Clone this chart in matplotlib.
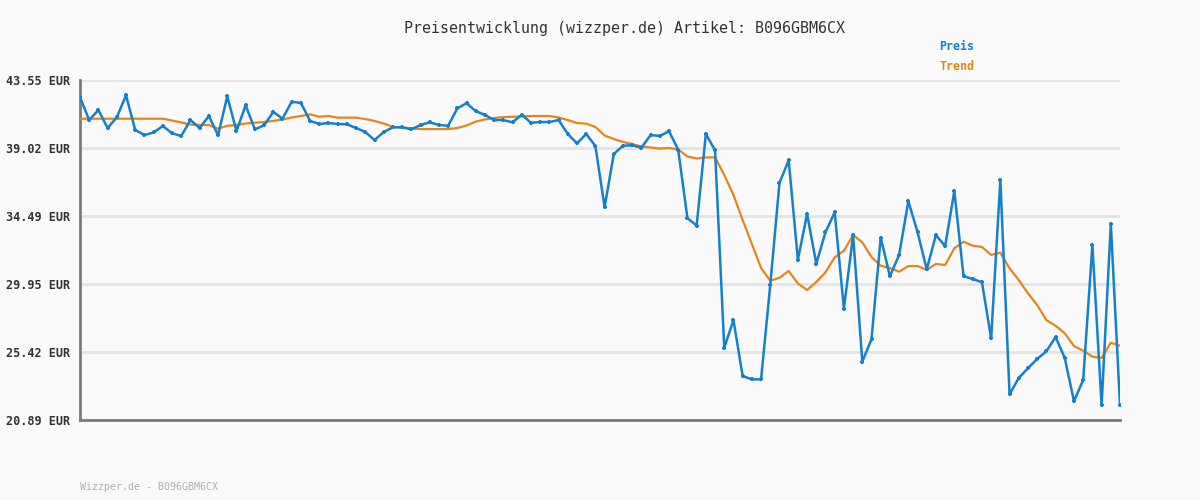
import matplotlib
matplotlib.use("Agg")

import matplotlib.pyplot as plt
import numpy as np


###------------------------data----------------------------###
price_eur = [
    42.40, 40.88, 41.55, 40.35, 41.06, 42.53, 40.22, 39.88, 40.06, 40.48,
    40.00, 39.82, 40.88, 40.35, 41.15, 39.86, 42.46, 40.15, 41.86, 40.26,
    40.53, 41.42, 40.97, 42.10, 42.02, 40.82, 40.62, 40.68, 40.62, 40.60,
    40.35, 40.08, 39.55, 40.08, 40.40, 40.40, 40.26, 40.55, 40.73, 40.55,
    40.50, 41.66, 42.00, 41.48, 41.22, 40.88, 40.88, 40.73, 41.24, 40.70,
    40.75, 40.75, 40.88, 39.95, 39.33, 39.95, 39.15, 35.07, 38.62, 39.17,
    39.20, 39.04, 39.88, 39.82, 40.14, 38.89, 34.34, 33.85, 39.95, 38.87,
    25.71, 27.55, 23.82, 23.60, 23.60, 29.89, 36.69, 38.20, 31.57, 34.62,
    31.31, 33.40, 34.73, 28.32, 33.20, 24.78, 26.27, 33.05, 30.47, 31.89,
    35.47, 33.42, 30.93, 33.22, 32.47, 36.15, 30.47, 30.29, 30.07, 26.33,
    36.89, 22.60, 23.69, 24.34, 24.96, 25.47, 26.42, 25.02, 22.14, 23.56,
    32.55, 21.87, 33.95, 21.87,
]

trend_eur = [
    40.97, 40.97, 40.97, 40.97, 40.97, 40.97, 40.97, 40.97, 40.97, 40.97,
    40.85, 40.72, 40.58, 40.55, 40.55, 40.30, 40.50, 40.55, 40.65, 40.70,
    40.75, 40.82, 40.92, 41.05, 41.15, 41.26, 41.10, 41.15, 41.04, 41.04,
    41.04, 40.95, 40.82, 40.65, 40.42, 40.38, 40.32, 40.28, 40.28, 40.28,
    40.28, 40.35, 40.52, 40.78, 40.92, 41.02, 41.08, 41.10, 41.13, 41.15,
    41.15, 41.15, 41.05, 40.88, 40.68, 40.64, 40.42, 39.85, 39.62, 39.42,
    39.28, 39.12, 39.05, 38.98, 39.02, 38.92, 38.45, 38.32, 38.38, 38.40,
    37.22, 35.89, 34.22, 32.62, 31.02, 30.17, 30.37, 30.82, 29.99, 29.55,
    30.09, 30.73, 31.73, 32.17, 33.22, 32.73, 31.75, 31.17, 31.02, 30.77,
    31.15, 31.15, 30.89, 31.29, 31.22, 32.33, 32.77, 32.51, 32.42, 31.89,
    32.04, 31.00, 30.22, 29.33, 28.55, 27.55, 27.17, 26.67, 25.82, 25.51,
    25.11, 25.02, 26.04, 25.84,
]

y_ticks = [20.89, 25.42, 29.95, 34.49, 39.02, 43.55]
y_tick_labels = [f"{v:.2f} EUR" for v in y_ticks]

article = "B096GBM6CX"

###------------------------style---------------------------###
bg_color = "#fafafa"
blue = "#1580cc"
orange = "#e4861c"
text_dark = "#333333"
mono = "DejaVu Sans Mono"

fig = plt.figure(figsize=(12, 5), dpi=100, facecolor=bg_color)
ax = fig.add_axes([80 / 1200, 80 / 500, 1040 / 1200, 340 / 500])
ax.set_facecolor(bg_color)

x = np.arange(len(price_eur))
ax.plot(x, trend_eur, color=orange, lw=1.6, zorder=3)
ax.plot(x, price_eur, color=blue, lw=1.8, marker="+", markersize=3.5,
        markeredgewidth=1.6, zorder=4)

ax.set_xlim(0, len(price_eur) - 1)
ax.set_ylim(y_ticks[0], y_ticks[-1])
ax.set_yticks(y_ticks)
ax.set_yticklabels(y_tick_labels, fontfamily=mono, fontweight="bold",
                   fontsize=8.5, color=text_dark)
ax.set_xticks([])
ax.tick_params(axis="y", length=0, pad=7)
ax.grid(axis="y", color="#e3e3e3", lw=2, zorder=1)

for side in ["top", "right"]:
    ax.spines[side].set_visible(False)
for side in ["left", "bottom"]:
    ax.spines[side].set_color("#7a7a7a")
    ax.spines[side].set_linewidth(2)

###-------------------------texts--------------------------###
fig.text(624 / 1200, 1 - 28 / 500,
         f"Preisentwicklung (wizzper.de) Artikel: {article}",
         ha="center", va="center", fontfamily=mono, fontsize=10.8,
         color=text_dark)
fig.text(939 / 1200, 1 - 47 / 500, "Preis", ha="left", va="center",
         fontfamily=mono, fontweight="bold", fontsize=8.4, color=blue)
fig.text(939 / 1200, 1 - 67 / 500, "Trend", ha="left", va="center",
         fontfamily=mono, fontweight="bold", fontsize=8.4, color=orange)
fig.text(80 / 1200, 1 - 487 / 500, f"Wizzper.de - {article}", ha="left",
         va="center", fontfamily=mono, fontsize=7.2, color="#b0b0b0")

fig.savefig("out.png", dpi=100, facecolor=bg_color)
